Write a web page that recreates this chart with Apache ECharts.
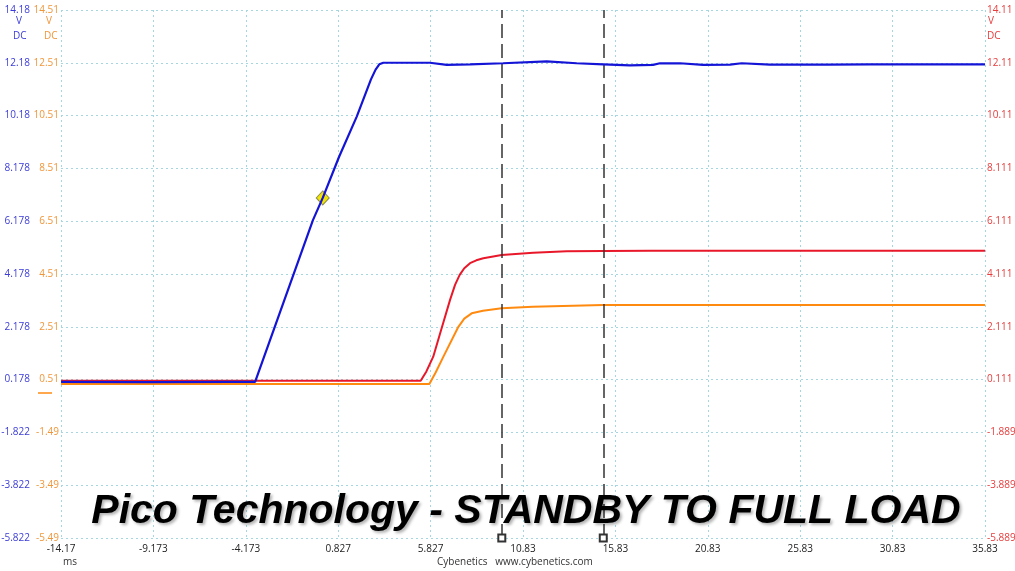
<!DOCTYPE html>
<html><head><meta charset="utf-8">
<script src="https://cdn.jsdelivr.net/npm/echarts@6/dist/echarts.min.js"></script>
<style>html,body{margin:0;padding:0;background:#fff}#c{width:1015px;height:571px}</style>
</head><body><div id="c"></div>
<script>
// ---- tick values / labels ----
const xTickValues = [-14.173, -9.173, -4.173, 0.827, 5.827, 10.827, 15.827, 20.827, 25.827, 30.827, 35.827];
const xTickLabels = ["-14.17", "-9.173", "-4.173", "0.827", "5.827", "10.83", "15.83", "20.83", "25.83", "30.83", "35.83"];
const blueTickValues = [-5.822, -3.822, -1.822, 0.178, 2.178, 4.178, 6.178, 8.178, 10.178, 12.178, 14.178];
const blueTickLabels = ["-5.822", "-3.822", "-1.822", "0.178", "2.178", "4.178", "6.178", "8.178", "10.18", "12.18", "14.18"];
const orangeTickValues = [-5.49, -3.49, -1.49, 0.51, 2.51, 4.51, 6.51, 8.51, 10.51, 12.51, 14.51];
const orangeTickLabels = ["-5.49", "-3.49", "-1.49", "0.51", "2.51", "4.51", "6.51", "8.51", "10.51", "12.51", "14.51"];
const redTickValues = [-5.889, -3.889, -1.889, 0.111, 2.111, 4.111, 6.111, 8.111, 10.111, 12.111, 14.111];
const redTickLabels = ["-5.889", "-3.889", "-1.889", "0.111", "2.111", "4.111", "6.111", "8.111", "10.11", "12.11", "14.11"];

// ---- series data (time in ms, volts) ----
const blueT = [-14.17, -9.5, -5.0, -3.67, -0.54, -0.01, 0.87, 1.83, 2.60, 2.85, 3.05, 3.27, 5.79, 6.70, 7.96, 9.75, 12.11, 13.73, 15.17, 16.61, 17.86, 18.24, 19.32, 20.57, 22.03, 22.66, 24.19, 27.26, 29.60, 33.22, 35.83];
const blueV = [0.09, 0.08, 0.09, 0.09, 6.22, 7.06, 8.61, 10.14, 11.55, 11.92, 12.12, 12.18, 12.18, 12.10, 12.12, 12.16, 12.23, 12.16, 12.12, 12.08, 12.10, 12.16, 12.16, 12.10, 12.11, 12.16, 12.11, 12.11, 12.12, 12.12, 12.12];
const redT = [-14.17, -3.67, 5.29, 5.60, 5.97, 6.40, 6.88, 7.15, 7.40, 7.65, 7.96, 8.30, 8.68, 9.67, 11.38, 13.19, 15.17, 17.70, 25.0, 35.83];
const redV = [0.07, 0.07, 0.07, 0.42, 0.98, 2.00, 3.13, 3.70, 4.08, 4.33, 4.52, 4.63, 4.71, 4.83, 4.92, 4.97, 4.98, 4.99, 4.99, 4.99];
const orangeT = [-14.17, 5.76, 6.10, 6.52, 7.33, 7.65, 8.05, 8.66, 9.67, 11.36, 15.15, 17.70, 35.83];
const orangeV = [0.34, 0.34, 0.78, 1.38, 2.51, 2.82, 3.02, 3.12, 3.21, 3.27, 3.335, 3.335, 3.34];
const cursorTimes = [9.68, 15.17];
const triggerPoint = [-0.01, 7.06];

const BLUE = '#1414d6', RED = '#e8182a', ORANGE = '#ff8a10';
const GRIDC = '#a6d6e0';
const FONT = '"Open Sans", "Noto Sans", sans-serif';

function pairs(t, v) { return t.map((x, i) => [x, v[i]]); }
function labelFrom(values, labels) {
  return function (val) {
    let best = 0, bd = Infinity;
    values.forEach((v, i) => { const d = Math.abs(v - val); if (d < bd) { bd = d; best = i; } });
    return labels[best];
  };
}
function realY(values, labels, color, pos, offset) {
  return {
    type: 'value', position: pos, offset: offset,
    min: values[0], max: values[values.length - 1],
    axisLine: { show: false }, axisTick: { show: false }, splitLine: { show: false },
    axisLabel: {
      customValues: values, formatter: labelFrom(values, labels),
      color: color, fontSize: 10, fontFamily: FONT, margin: 2,
      showMinLabel: true, showMaxLabel: true
    }
  };
}

const chart = echarts.init(document.getElementById('c'), null, { renderer: 'canvas' });
chart.setOption({
  animation: false,
  backgroundColor: '#fff',
  title: {
    text: 'Pico Technology - STANDBY TO FULL LOAD',
    left: 521, top: 486, textAlign: 'center',
    textStyle: {
      fontFamily: '"Liberation Sans", Arial, sans-serif', fontSize: 41, fontWeight: 'bold', fontStyle: 'italic',
      color: { type: 'linear', x: 0, y: 0, x2: 0, y2: 1, colorStops: [
        { offset: 0, color: '#111' }, { offset: 0.35, color: '#5a5a5a' }, { offset: 0.55, color: '#1a1a1a' }, { offset: 1, color: '#000' }] },
      textShadowColor: 'rgba(0,0,0,0.3)', textShadowBlur: 3, textShadowOffsetX: 2, textShadowOffsetY: 2
    }
  },
  grid: { left: 61, right: 30, top: 10, bottom: 33, outerBoundsMode: 'none' },
  xAxis: [
    {
      type: 'value', min: xTickValues[0], max: xTickValues[xTickValues.length - 1],
      axisLine: { show: false }, axisTick: { show: false }, splitLine: { show: false },
      axisLabel: { customValues: xTickValues, formatter: labelFrom(xTickValues, xTickLabels), color: '#222', fontSize: 10, fontFamily: FONT, margin: 6, showMinLabel: true, showMaxLabel: true }
    },
    {
      type: 'value', min: 0, max: 10, interval: 1, position: 'bottom',
      axisLine: { show: false }, axisTick: { show: false }, axisLabel: { show: false },
      splitLine: { show: true, lineStyle: { color: GRIDC, type: [2, 3], width: 1 } }
    }
  ],
  yAxis: [
    realY(blueTickValues, blueTickLabels, '#3c3cd8', 'left', 29),
    realY(orangeTickValues, orangeTickLabels, '#f0963a', 'left', 0),
    realY(redTickValues, redTickLabels, '#e63c3c', 'right', 0),
    {
      type: 'value', min: 0, max: 10, interval: 1, position: 'left',
      axisLine: { show: false }, axisTick: { show: false }, axisLabel: { show: false },
      splitLine: { show: true, lineStyle: { color: GRIDC, type: [2, 3], width: 1 } }
    }
  ],
  series: [
    {
      name: 'Orange', type: 'line', xAxisIndex: 0, yAxisIndex: 1, data: pairs(orangeT, orangeV),
      showSymbol: false, lineStyle: { color: ORANGE, width: 2 }, itemStyle: { color: ORANGE }, z: 3
    },
    {
      name: 'Red', type: 'line', xAxisIndex: 0, yAxisIndex: 2, data: pairs(redT, redV),
      showSymbol: false, lineStyle: { color: RED, width: 2 }, itemStyle: { color: RED }, z: 4,
      markLine: {
        silent: true, symbol: ['emptyRect', 'none'], symbolSize: 7,
        label: { show: false },
        lineStyle: { color: '#333', width: 1.5, type: [14, 6] },
        data: cursorTimes.map(t => ({ xAxis: t }))
      }
    },
    {
      name: 'Blue', type: 'line', xAxisIndex: 0, yAxisIndex: 0, data: pairs(blueT, blueV),
      showSymbol: false, lineStyle: { color: BLUE, width: 2.2 }, itemStyle: { color: BLUE }, z: 5,
      markPoint: {
        silent: true, symbol: 'diamond', symbolSize: [13, 14],
        itemStyle: { color: '#f2e600', borderColor: '#8c8c5a', borderWidth: 1 },
        label: { show: false },
        data: [{ coord: triggerPoint }]
      }
    }
  ],
  graphic: [
    { type: 'text', left: 16, top: 16, style: { text: 'V', fill: '#3c3cd8', font: '10px ' + FONT } },
    { type: 'text', left: 13, top: 31, style: { text: 'DC', fill: '#3c3cd8', font: '10px ' + FONT } },
    { type: 'text', left: 46, top: 16, style: { text: 'V', fill: '#f0963a', font: '10px ' + FONT } },
    { type: 'text', left: 44, top: 31, style: { text: 'DC', fill: '#f0963a', font: '10px ' + FONT } },
    { type: 'text', left: 988, top: 16, style: { text: 'V', fill: '#e63c3c', font: '10px ' + FONT } },
    { type: 'text', left: 987, top: 31, style: { text: 'DC', fill: '#e63c3c', font: '10px ' + FONT } },
    { type: 'line', shape: { x1: 38, y1: 393, x2: 52, y2: 393 }, style: { stroke: ORANGE, lineWidth: 1.5 } },
    { type: 'text', left: 63, top: 557, style: { text: 'ms', fill: '#333', font: '10px ' + FONT } },
    { type: 'text', left: 437, top: 557, style: { text: 'Cybenetics   www.cybenetics.com', fill: '#333', font: '10px ' + FONT } }
  ]
});
</script>
</body></html>
